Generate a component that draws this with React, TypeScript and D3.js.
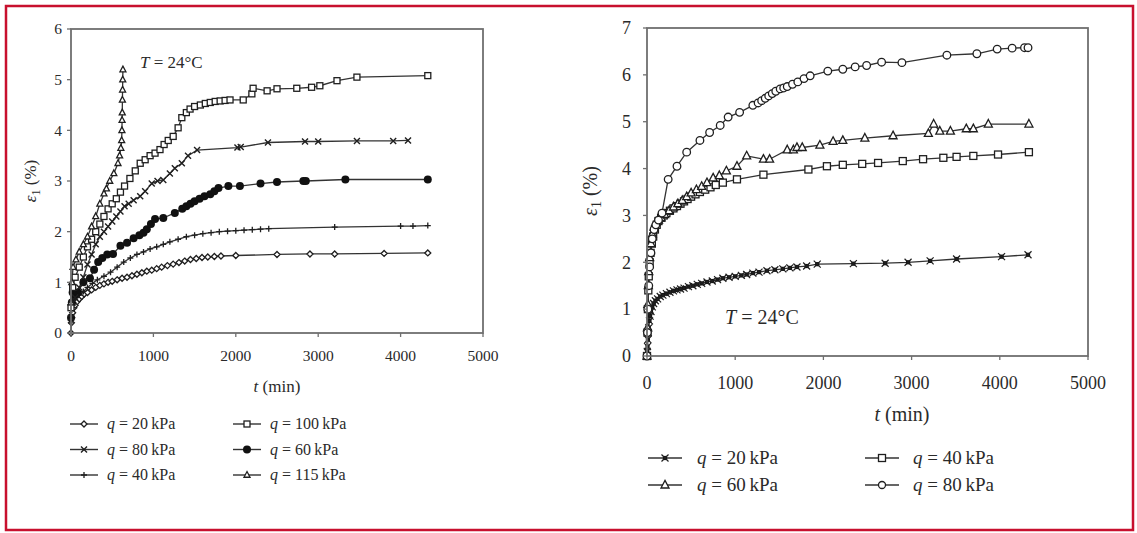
import React from "react";
import * as d3 from "d3";

// ---------- DATA (t in min, eps1 in %) ----------
const xTicks = [0, 1000, 2000, 3000, 4000, 5000];
const yTicksLeft = [0, 1, 2, 3, 4, 5, 6];
const yTicksRight = [0, 1, 2, 3, 4, 5, 6, 7];

// Left panel
const L_q20: [number, number][] = [[0,0],[5,0.2],[10,0.3],[20,0.4],[35,0.5],[50,0.55],[75,0.62],[100,0.67],[130,0.72],[160,0.77],[200,0.8],[250,0.85],[300,0.9],[350,0.94],[400,0.97],[450,1.0],[500,1.02],[560,1.05],[620,1.08],[680,1.1],[740,1.13],[800,1.16],[860,1.19],[920,1.22],[980,1.24],[1040,1.27],[1100,1.3],[1170,1.33],[1240,1.36],[1310,1.39],[1380,1.42],[1450,1.45],[1520,1.47],[1590,1.49],[1660,1.5],[1740,1.51],[1820,1.52],[2000,1.53],[2500,1.55],[2900,1.56],[3200,1.56],[3800,1.57],[4330,1.58]];
const L_q40: [number, number][] = [[0,0.2],[10,0.45],[30,0.6],[60,0.7],[100,0.75],[150,0.82],[200,0.9],[260,0.98],[320,1.05],[400,1.12],[480,1.2],[560,1.3],[640,1.4],[720,1.48],[800,1.55],[880,1.6],[960,1.66],[1040,1.7],[1120,1.75],[1200,1.8],[1300,1.85],[1400,1.9],[1500,1.93],[1600,1.96],[1700,1.98],[1800,2.0],[1900,2.01],[2000,2.02],[2100,2.03],[2200,2.04],[2300,2.05],[2400,2.06],[3200,2.09],[4000,2.11],[4150,2.11],[4330,2.12]];
const L_q60: [number, number][] = [[0,0.3],[10,0.6],[20,0.8],[40,0.75],[80,0.8],[150,1.0],[230,1.08],[280,1.25],[330,1.4],[380,1.48],[440,1.55],[510,1.56],[600,1.72],[680,1.78],[760,1.87],[830,1.93],[880,1.98],[920,2.05],[970,2.15],[1020,2.25],[1120,2.27],[1260,2.37],[1350,2.45],[1400,2.5],[1450,2.55],[1500,2.6],[1560,2.65],[1620,2.7],[1690,2.74],[1740,2.8],[1790,2.86],[1910,2.9],[2050,2.9],[2300,2.95],[2500,2.98],[2820,3.0],[2850,3.0],[3330,3.03],[4330,3.03]];
const L_q80: [number, number][] = [[0,0.3],[20,0.6],[50,0.7],[100,0.9],[150,1.1],[200,1.35],[250,1.55],[300,1.75],[350,1.9],[400,2.0],[450,2.1],[500,2.2],[550,2.3],[600,2.4],[650,2.5],[700,2.55],[760,2.62],[840,2.7],[900,2.8],[980,2.95],[1050,3.0],[1120,3.02],[1200,3.15],[1260,3.25],[1345,3.35],[1420,3.5],[1530,3.61],[2020,3.66],[2060,3.67],[2390,3.76],[2840,3.78],[3000,3.78],[3470,3.79],[3910,3.79],[4090,3.8]];
const L_q100: [number, number][] = [[0,0.5],[20,0.9],[50,1.1],[100,1.3],[150,1.5],[200,1.7],[250,1.85],[300,2.0],[350,2.15],[400,2.3],[450,2.45],[500,2.55],[550,2.65],[600,2.78],[650,2.9],[715,3.05],[780,3.2],[840,3.35],[900,3.42],[960,3.5],[1020,3.55],[1080,3.62],[1130,3.72],[1180,3.8],[1240,3.88],[1300,4.05],[1345,4.25],[1400,4.35],[1445,4.42],[1500,4.47],[1570,4.5],[1630,4.53],[1690,4.55],[1750,4.57],[1810,4.58],[1870,4.59],[1930,4.6],[2090,4.6],[2195,4.72],[2210,4.83],[2380,4.78],[2500,4.82],[2740,4.83],[2920,4.85],[3020,4.88],[3228,4.98],[3470,5.05],[4330,5.08]];
const L_q115: [number, number][] = [[0,0.6],[10,1.0],[25,1.3],[60,1.45],[100,1.6],[150,1.75],[200,1.9],[250,2.1],[300,2.3],[350,2.55],[400,2.75],[430,2.85],[470,3.0],[520,3.15],[570,3.35],[590,3.5],[605,3.65],[615,3.8],[618,4.0],[620,4.2],[622,4.35],[624,4.6],[626,4.8],[628,5.0],[630,5.2]];

// Right panel
const R_q20: [number, number][] = [[0,0],[3,0.1],[6,0.2],[10,0.35],[15,0.5],[20,0.6],[28,0.75],[35,0.85],[45,0.95],[60,1.05],[75,1.12],[95,1.18],[120,1.22],[150,1.27],[180,1.3],[220,1.33],[260,1.36],[300,1.39],[340,1.41],[380,1.43],[420,1.45],[470,1.48],[520,1.5],[570,1.53],[620,1.55],[680,1.58],[740,1.6],[800,1.63],[860,1.66],[930,1.68],[1000,1.7],[1070,1.72],[1130,1.74],[1200,1.77],[1270,1.79],[1360,1.82],[1450,1.84],[1540,1.86],[1620,1.88],[1700,1.9],[1810,1.92],[1930,1.96],[2340,1.97],[2700,1.98],[2960,2.0],[3210,2.03],[3510,2.07],[4020,2.12],[4320,2.16]];
const R_q40: [number, number][] = [[0,0],[5,0.5],[10,1.0],[15,1.4],[20,1.7],[30,2.0],[40,2.2],[55,2.4],[70,2.55],[90,2.7],[110,2.8],[130,2.88],[160,2.95],[190,3.0],[220,3.05],[260,3.1],[300,3.15],[340,3.2],[380,3.25],[420,3.3],[460,3.35],[500,3.4],[550,3.45],[600,3.5],[660,3.55],[720,3.6],[780,3.65],[860,3.7],[1020,3.77],[1320,3.87],[1830,3.98],[2040,4.05],[2220,4.08],[2440,4.1],[2620,4.12],[2900,4.16],[3130,4.2],[3360,4.23],[3510,4.25],[3700,4.27],[3980,4.3],[4330,4.35]];
const R_q60: [number, number][] = [[0,0],[5,0.6],[10,1.1],[15,1.5],[20,1.8],[30,2.1],[45,2.4],[60,2.6],[80,2.75],[100,2.85],[130,2.9],[160,2.95],[200,3.02],[250,3.1],[300,3.18],[350,3.25],[400,3.32],[450,3.4],[500,3.48],[560,3.55],[620,3.62],[680,3.7],[750,3.8],[820,3.85],[900,3.95],[1020,4.05],[1130,4.27],[1320,4.2],[1390,4.2],[1590,4.4],[1660,4.4],[1700,4.45],[1760,4.45],[1960,4.5],[2110,4.58],[2220,4.6],[2470,4.65],[2790,4.7],[3190,4.75],[3250,4.95],[3320,4.8],[3440,4.8],[3620,4.85],[3700,4.85],[3870,4.95],[4330,4.95]];
const R_q80: [number, number][] = [[0,0],[5,0.5],[10,1.0],[20,1.5],[30,1.9],[45,2.2],[60,2.5],[80,2.7],[100,2.8],[130,2.9],[170,3.05],[240,3.77],[340,4.05],[450,4.35],[600,4.6],[710,4.77],[830,4.92],[920,5.1],[1050,5.2],[1200,5.35],[1260,5.4],[1300,5.45],[1340,5.5],[1380,5.55],[1420,5.6],[1460,5.65],[1510,5.7],[1550,5.72],[1590,5.75],[1650,5.8],[1710,5.85],[1780,5.92],[1850,5.98],[2050,6.08],[2220,6.12],[2360,6.17],[2490,6.2],[2660,6.27],[2890,6.26],[3400,6.42],[3740,6.45],[3970,6.55],[4140,6.57],[4280,6.58],[4320,6.58]];

const leftLabels = ["20", "100", "80", "60", "40", "115"];
const rightLabels = ["20", "40", "60", "80"];

// ---------- RENDERING ----------
const FONT = "'Liberation Serif', 'Times New Roman', serif";
const LINE = "#333";
const MK = "#1f1f1f";
const AX = "#6f6f6f";
const TXT = "#2a2a2a";

type MarkerType = "diamond" | "square" | "cross" | "dot" | "plus" | "triangle" | "squareX" | "circle";

function Marker({ type, x, y, r }: { type: MarkerType; x: number; y: number; r: number }) {
  const sw = 1.3;
  switch (type) {
    case "diamond":
      return <path d={`M${x},${y - r}L${x + r},${y}L${x},${y + r}L${x - r},${y}Z`} fill="#fff" stroke={MK} strokeWidth={sw} />;
    case "square":
      return <rect x={x - r} y={y - r} width={2 * r} height={2 * r} fill="#fff" stroke={MK} strokeWidth={sw} />;
    case "cross":
      return <path d={`M${x - r},${y - r}L${x + r},${y + r}M${x - r},${y + r}L${x + r},${y - r}`} stroke={MK} strokeWidth={1.4} />;
    case "dot":
      return <circle cx={x} cy={y} r={r} fill="#111" />;
    case "plus":
      return <path d={`M${x - r},${y}L${x + r},${y}M${x},${y - r}L${x},${y + r}`} stroke={MK} strokeWidth={1.3} />;
    case "triangle":
      return <path d={`M${x},${y - r * 1.15}L${x + r},${y + r * 0.75}L${x - r},${y + r * 0.75}Z`} fill="#fff" stroke={MK} strokeWidth={sw} />;
    case "squareX":
      return (
        <g>
          <rect x={x - r * 0.6} y={y - r * 0.6} width={r * 1.2} height={r * 1.2} fill="#111" />
          <path d={`M${x - r},${y - r}L${x + r},${y + r}M${x - r},${y + r}L${x + r},${y - r}`} stroke={MK} strokeWidth={1.2} />
        </g>
      );
    case "circle":
      return <circle cx={x} cy={y} r={r} fill="#fff" stroke={MK} strokeWidth={sw} />;
  }
  return null;
}

interface Series { data: [number, number][]; marker: MarkerType; r: number; }

interface PanelProps {
  x0: number; x1: number; y0: number; y1: number;
  yMax: number; yTicks: number[];
  series: Series[];
  tickFont: number; xLabelY: number; yLabelX: number;
  titleFont: number; xTitleX: number; xTitleY: number; yTitleX: number; yTitleY: number;
  tX: number; tY: number; tFont: number;
}

function Panel(p: PanelProps) {
  const xs = d3.scaleLinear().domain([0, 5000]).range([p.x0, p.x1]);
  const ys = d3.scaleLinear().domain([0, p.yMax]).range([p.y1, p.y0]);
  const line = d3.line<[number, number]>().x(d => xs(d[0])).y(d => ys(d[1]));
  return (
    <g fontFamily={FONT}>
      {p.series.map((s, i) => (
        <path key={"l" + i} d={line(s.data) || ""} fill="none" stroke={LINE} strokeWidth={1.3} />
      ))}
      {p.series.map((s, i) => (
        <g key={"m" + i}>
          {s.data.map((d, j) => (
            <Marker key={j} type={s.marker} x={xs(d[0])} y={ys(d[1])} r={s.r} />
          ))}
        </g>
      ))}
      <rect x={p.x0} y={p.y0} width={p.x1 - p.x0} height={p.y1 - p.y0} fill="none" stroke={AX} strokeWidth={1.8} />
      {xTicks.map(t => (
        <g key={"xt" + t}>
          <line x1={xs(t)} x2={xs(t)} y1={p.y1} y2={p.y1 + 4} stroke={AX} strokeWidth={1.3} />
          <text x={xs(t)} y={p.xLabelY} fontSize={p.tickFont} textAnchor="middle" fill={TXT}>{t}</text>
        </g>
      ))}
      {p.yTicks.map(t => (
        <g key={"yt" + t}>
          <line x1={p.x0 - 4} x2={p.x0} y1={ys(t)} y2={ys(t)} stroke={AX} strokeWidth={1.3} />
          <text x={p.yLabelX} y={ys(t)} dy="0.35em" fontSize={p.tickFont} textAnchor="end" fill={TXT}>{t}</text>
        </g>
      ))}
      <text x={p.xTitleX} y={p.xTitleY} fontSize={p.titleFont} textAnchor="middle" fill={TXT}>
        <tspan fontStyle="italic">t</tspan> (min)
      </text>
      <text transform={`translate(${p.yTitleX},${p.yTitleY}) rotate(-90)`} fontSize={p.titleFont} textAnchor="middle" fill={TXT}>
        <tspan fontStyle="italic">ε</tspan>
        <tspan fontSize={p.titleFont * 0.7} dy="0.3em">1</tspan>
        <tspan dy="-0.2em"> (%)</tspan>
      </text>
      <text x={p.tX} y={p.tY} fontSize={p.tFont} fill={TXT}>
        <tspan fontStyle="italic">T</tspan> = 24°C
      </text>
    </g>
  );
}

function LegendItem({ x, y, w, tx, label, marker, r, font }: { x: number; y: number; w: number; tx: number; label: string; marker: MarkerType; r: number; font: number }) {
  return (
    <g fontFamily={FONT}>
      <line x1={x} x2={x + w} y1={y} y2={y} stroke={LINE} strokeWidth={1.4} />
      <Marker type={marker} x={x + w / 2} y={y} r={r} />
      <text x={tx} y={y} dy="0.33em" fontSize={font} fill={TXT}>
        <tspan fontStyle="italic">q</tspan> = {label}{"\u2009"}kPa
      </text>
    </g>
  );
}

export default function App() {
  const leftSeries: Series[] = [
    { data: L_q20, marker: "diamond", r: 3 },
    { data: L_q40, marker: "plus", r: 3 },
    { data: L_q60, marker: "dot", r: 4 },
    { data: L_q80, marker: "cross", r: 3 },
    { data: L_q100, marker: "square", r: 3 },
    { data: L_q115, marker: "triangle", r: 3 },
  ];
  const rightSeries: Series[] = [
    { data: R_q20, marker: "squareX", r: 3.5 },
    { data: R_q40, marker: "square", r: 3.5 },
    { data: R_q60, marker: "triangle", r: 4 },
    { data: R_q80, marker: "circle", r: 3.8 },
  ];
  const leftLegend: { m: MarkerType; r: number }[] = [
    { m: "diamond", r: 3 }, { m: "square", r: 3 }, { m: "cross", r: 3 },
    { m: "dot", r: 4 }, { m: "plus", r: 3 }, { m: "triangle", r: 3 },
  ];
  const rightLegend: { m: MarkerType; r: number }[] = [
    { m: "squareX", r: 3.5 }, { m: "square", r: 3.5 }, { m: "triangle", r: 4 }, { m: "circle", r: 3.5 },
  ];
  return (
    <div style={{ position: "absolute", left: 0, top: 0 }}>
      <svg width={1137} height={533} style={{ display: "block", background: "#fff" }}>
        <rect x={6} y={6} width={1127} height={524} fill="#fff" stroke="#c8102e" strokeWidth={2.5} />
        <Panel x0={71} x1={483} y0={29} y1={333} yMax={6} yTicks={yTicksLeft} series={leftSeries}
          tickFont={15.5} xLabelY={361} yLabelX={62}
          titleFont={17} xTitleX={277} xTitleY={392} yTitleX={36} yTitleY={181}
          tX={140} tY={68} tFont={17} />
        <Panel x0={647} x1={1088} y0={28} y1={356} yMax={7} yTicks={yTicksRight} series={rightSeries}
          tickFont={18} xLabelY={389} yLabelX={631}
          titleFont={20} xTitleX={902} xTitleY={421} yTitleX={597} yTitleY={191}
          tX={725} tY={324} tFont={20} />
        {leftLabels.map((lab, i) => {
          const col = i % 2, row = Math.floor(i / 2);
          return (
            <LegendItem key={"ll" + i} x={col === 0 ? 70 : 233} y={424 + row * 25.5} w={28}
              tx={col === 0 ? 107 : 270} label={lab} marker={leftLegend[i].m} r={leftLegend[i].r} font={16} />
          );
        })}
        {rightLabels.map((lab, i) => {
          const col = i % 2, row = Math.floor(i / 2);
          return (
            <LegendItem key={"rl" + i} x={col === 0 ? 648 : 865} y={458 + row * 27} w={34}
              tx={col === 0 ? 697 : 913} label={lab} marker={rightLegend[i].m} r={rightLegend[i].r} font={19} />
          );
        })}
      </svg>
    </div>
  );
}
